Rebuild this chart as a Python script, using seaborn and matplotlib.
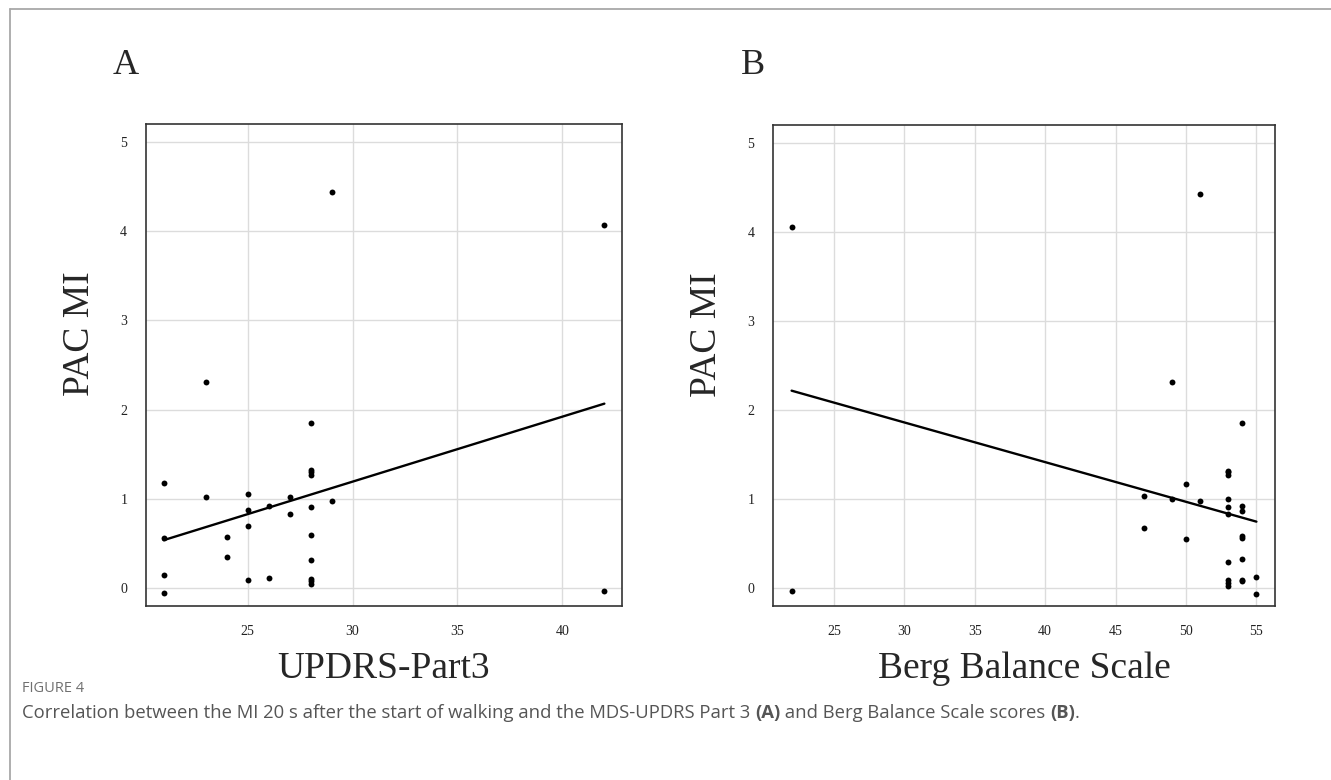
import matplotlib
matplotlib.use("Agg")
import matplotlib.pyplot as plt
import seaborn as sns
import numpy as np
from matplotlib.lines import Line2D

# Panel A: UPDRS Part 3 vs PAC MI
updrs = [23, 28, 21, 28, 28, 28, 23, 25, 29, 27, 26, 25, 28, 27, 21,
         25, 24, 28, 24, 28, 21, 25, 26, 28, 28, 28, 21, 42, 29, 42]
mi_a = [2.31, 1.85, 1.18, 1.32, 1.30, 1.27, 1.02, 1.05, 0.98, 1.02, 0.92, 0.88, 0.91, 0.83, 0.56,
        0.70, 0.575, 0.60, 0.35, 0.31, 0.15, 0.09, 0.11, 0.10, 0.08, 0.05, -0.05, -0.03, 4.44, 4.07]

# Panel B: Berg Balance Scale vs PAC MI
berg = [49, 54, 53, 53, 53, 50, 47, 49, 51, 53, 53, 54, 54, 53, 47,
        50, 54, 54, 53, 54, 55, 53, 53, 53, 54, 54, 55, 22, 51, 22]
mi_b = [2.31, 1.85, 1.32, 1.30, 1.27, 1.17, 1.04, 1.00, 0.98, 1.00, 0.91, 0.92, 0.87, 0.83, 0.68,
        0.55, 0.59, 0.56, 0.29, 0.33, 0.13, 0.09, 0.06, 0.03, 0.09, 0.08, -0.06, -0.03, 4.43, 4.06]

xticks_a = [25, 30, 35, 40]
xticks_b = [25, 30, 35, 40, 45, 50, 55]
yticks = [0, 1, 2, 3, 4, 5]

sns.set_style("white")
serif = ["Liberation Serif", "DejaVu Serif"]
sans = ["Open Sans", "DejaVu Sans"]

fig = plt.figure(figsize=(13.31, 7.8), dpi=100)
W, H = 1331, 780

# frame lines of the figure page
fig.add_artist(Line2D([9.5 / W, 1], [1 - 9 / H, 1 - 9 / H], transform=fig.transFigure, color="#a8a8a8", lw=1.3))
fig.add_artist(Line2D([9.5 / W, 9.5 / W], [0, 1 - 9 / H], transform=fig.transFigure, color="#a8a8a8", lw=1.3))

ax_a = fig.add_axes([146 / W, (H - 606) / H, 476 / W, 482 / H])
ax_b = fig.add_axes([773 / W, (H - 606) / H, 502 / W, 481 / H])

panels = [
    (ax_a, updrs, mi_a, xticks_a, (20.16, 42.84), "UPDRS-Part3"),
    (ax_b, berg, mi_b, xticks_b, (20.68, 56.32), "Berg Balance Scale"),
]

for ax, x, y, xt, xl, xlabel in panels:
    sns.regplot(x=x, y=y, ax=ax, ci=None, color="black",
                scatter_kws={"s": 18, "linewidths": 0, "alpha": 1, "zorder": 3},
                line_kws={"lw": 1.7, "zorder": 4})
    ax.set_xlim(*xl)
    ax.set_ylim(-0.2, 5.2)
    ax.set_xticks(xt)
    ax.set_yticks(yticks)
    ax.grid(True, color="#dcdcdc", lw=1.0, zorder=0)
    ax.set_axisbelow(True)
    for s in ax.spines.values():
        s.set_color("#333333")
        s.set_linewidth(1.2)
    ax.tick_params(direction="out", length=4.5, width=1, color="#333333", pad=9,
                   labelsize=10, labelcolor="#222222")
    for lab in ax.get_xticklabels() + ax.get_yticklabels():
        lab.set_family(serif)
    ax.set_xlabel(xlabel, family=serif, fontsize=27, labelpad=10)
    ax.set_ylabel("PAC MI", family=serif, fontsize=27)
    ax.yaxis.set_label_coords(-0.102 * 476 / ax.get_position().width / W, 0.565)

fig.text(113 / W, 1 - 74 / H, "A", family=serif, fontsize=26, ha="left", va="baseline")
fig.text(741 / W, 1 - 74 / H, "B", family=serif, fontsize=26, ha="left", va="baseline")

# caption
fig.text(22 / W, 1 - 688 / H, "FIGURE 4", family=sans, fontsize=10.5, color="#707070", va="center")
renderer = fig.canvas.get_renderer()
parts = [
    ("Correlation between the MI 20 s after the start of walking and the MDS-UPDRS Part 3 ", "normal"),
    ("(A)", "bold"),
    (" and Berg Balance Scale scores ", "normal"),
    ("(B)", "bold"),
    (".", "normal"),
]
xpos = 22 / W
for txt, wt in parts:
    t = fig.text(xpos, 1 - 713 / H, txt, family=sans, fontsize=13.3, color="#555555",
                 weight=wt, va="center")
    xpos = t.get_window_extent(renderer).x1 / W

fig.savefig("out.png", dpi=100)
